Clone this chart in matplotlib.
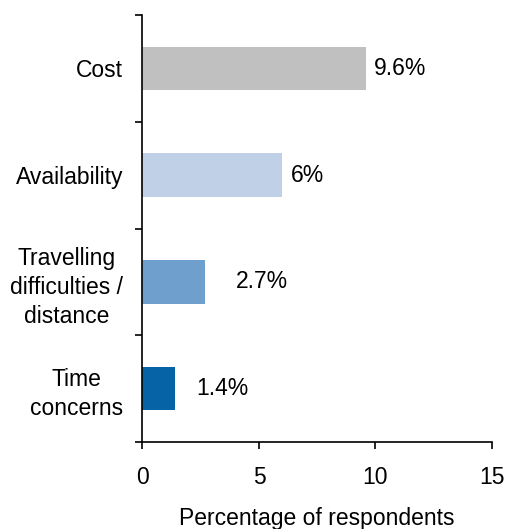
import matplotlib
matplotlib.use("Agg")
import matplotlib.pyplot as plt
from matplotlib.ticker import FixedLocator

plt.rcParams['font.family'] = ['Liberation Sans', 'DejaVu Sans']

categories = ["Cost", "Availability", "Travelling\ndifficulties /\ndistance", "Time\nconcerns"]
values = [9.6, 6.0, 2.7, 1.4]
value_labels = ["9.6%", "6%", "2.7%", "1.4%"]
label_gap = [0.33, 0.35, 1.31, 0.9]
colors = ["#C0C0C0", "#C0D1E7", "#6FA0CD", "#0563A6"]
x_ticks = [0, 5, 10, 15]

FS = 16.5

fig = plt.figure(figsize=(5.06, 5.29), dpi=100)
ax = fig.add_axes([0.2816, 0.1645, 0.6907, 0.807])

pos = list(range(len(categories)))
ax.barh(pos, values, height=0.41, color=colors, zorder=2)

for p, v, t, g in zip(pos, values, value_labels, label_gap):
    ax.text(v + g, p, t, va='center', ha='left', fontsize=FS, color='black')

ax.set_xlim(0, 15)
ax.set_ylim(3.5, -0.5)
ax.set_xticks(x_ticks)
ax.set_xticklabels([str(t) for t in x_ticks], fontsize=FS)
ax.tick_params(axis='x', direction='out', length=5, width=1.2, pad=12)

ax.set_yticks(pos)
ax.set_yticklabels(categories, fontsize=FS, linespacing=1.33)
for lbl in ax.get_yticklabels():
    lbl.set_multialignment('center')
ax.tick_params(axis='y', which='major', length=0, pad=14)
ax.yaxis.set_minor_locator(FixedLocator([-0.5, 0.5, 1.5, 2.5, 3.5]))
ax.tick_params(axis='y', which='minor', direction='out', length=5, width=1.2)

ax.set_xlabel("Percentage of respondents", fontsize=FS, labelpad=13)

for s in ['top', 'right']:
    ax.spines[s].set_visible(False)
for s in ['left', 'bottom']:
    ax.spines[s].set_linewidth(1.2)

fig.savefig("out.png", dpi=100)
